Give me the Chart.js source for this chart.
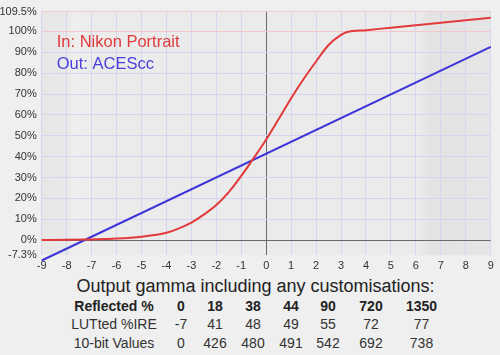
<!DOCTYPE html>
<html>
<head>
<meta charset="utf-8">
<script src="https://cdn.jsdelivr.net/npm/chart.js@4"></script>
<style>
  body { margin: 0; background: #efefef; font-family: Arial, "Liberation Sans", sans-serif; color: #222; }
  #wrap { position: relative; width: 500px; height: 355px; overflow: hidden; }
  #chart { position: absolute; left: 0; top: 0; }
  #title { position: absolute; left: 0; width: 511px; top: 275px; text-align: center; font-size: 18px; line-height: 22px; color: #222; }
  #tbl { position: absolute; left: 62px; top: 297px; border-collapse: collapse; font-size: 14px; color: #333; }
  #tbl td { padding: 0; height: 18.3px; line-height: 18px; text-align: center; white-space: nowrap; }
  #tbl tr.head td { font-weight: bold; color: #222; }
</style>
</head>
<body>
<div id="wrap">
  <canvas id="chart" width="500" height="272"></canvas>
  <div id="title">Output gamma including any customisations:</div>
  <table id="tbl"></table>
</div>
<script>
// stops from 18% grey
let redX = [-9, -8, -7, -6, -5, -4, -3.5, -3, -2.5, -2, -1.5, -1, -0.5, 0, 0.5, 1, 1.5, 2, 2.5, 3, 3.25, 4, 5, 6, 7, 8, 9]
let redY = [0, 0.1, 0.3, 0.7, 1.6, 3.5, 5.6, 8.4, 12.2, 16.8, 23, 30.8, 39.3, 48.2, 58, 68, 77.2, 85.6, 93.5, 98.3, 99.7, 100.6, 101.8, 103, 104.2, 105.4, 106.6]
let blueX = [-9, 9]
let blueY = [-9.8, 92.6]

let xTicks = [-9, -8, -7, -6, -5, -4, -3, -2, -1, 0, 1, 2, 3, 4, 5, 6, 7, 8, 9]
let yTicks = [-7.3, 0, 10, 20, 30, 40, 50, 60, 70, 80, 90, 100, 109.5]

let tableLabels = ['Reflected %', 'LUTted %IRE', '10-bit Values']
let reflected = ['0', '18', '38', '44', '90', '720', '1350']
let lutted = [-7, 41, 48, 49, 55, 72, 77]
let tenBit = [0, 426, 480, 491, 542, 692, 738]

let colWidths = [104, 30, 38, 38, 38, 36, 50, 51]

// table
let tbl = document.getElementById('tbl')
let cg = document.createElement('colgroup')
colWidths.forEach(w => {
  let c = document.createElement('col')
  c.style.width = w + 'px'
  cg.appendChild(c)
})
tbl.appendChild(cg)
;[reflected, lutted, tenBit].forEach((row, i) => {
  let tr = document.createElement('tr')
  if (i === 0) tr.className = 'head'
  let td = document.createElement('td')
  td.textContent = tableLabels[i]
  tr.appendChild(td)
  row.forEach(v => {
    let c = document.createElement('td')
    c.textContent = v
    tr.appendChild(c)
  })
  tbl.appendChild(tr)
})

let toPts = (xs, ys) => xs.map((x, i) => ({ x: x, y: ys[i] }))

let plotBg = {
  id: 'plotBg',
  beforeDraw(chart) {
    let { ctx, chartArea: a } = chart
    ctx.save()
    ctx.fillStyle = '#efefef'
    ctx.fillRect(0, 0, chart.width, chart.height)
    let g = ctx.createLinearGradient(a.left, 0, a.right, 0)
    g.addColorStop(0, '#e7e7e7')
    g.addColorStop(0.055, '#e8e8e8')
    g.addColorStop(0.075, '#efefef')
    g.addColorStop(0.12, '#ebebeb')
    g.addColorStop(0.84, '#ebebeb')
    g.addColorStop(0.865, '#e3e3e3')
    g.addColorStop(1, '#e6e6e6')
    ctx.fillStyle = g
    ctx.fillRect(a.left, a.top, a.right - a.left, a.bottom - a.top)
    ctx.restore()
  },
  afterDraw(chart) {
    let { ctx, chartArea: a } = chart
    ctx.save()
    ctx.font = '16.5px Arial, "Liberation Sans", sans-serif'
    ctx.textBaseline = 'alphabetic'
    ctx.fillStyle = '#e03a3a'
    ctx.fillText('In: Nikon Portrait', a.left + 15, 47)
    ctx.fillStyle = '#4a3fdc'
    ctx.fillText('Out: ACEScc', a.left + 15, 69)
    ctx.restore()
  }
}

let lav = '#d5d5ef'
let pink = '#f3c8cc'
let dark = '#6a6a6a'

let chart = new Chart(document.getElementById('chart').getContext('2d'), {
  type: 'line',
  data: {
    datasets: [{
      label: 'In: Nikon Portrait',
      data: toPts(redX, redY),
      borderColor: '#e23a3a',
      borderWidth: 2,
      pointRadius: 0,
      cubicInterpolationMode: 'monotone',
      clip: false
    }, {
      label: 'Out: ACEScc',
      data: toPts(blueX, blueY),
      borderColor: '#3d35d8',
      borderWidth: 2,
      pointRadius: 0,
      clip: false
    }]
  },
  options: {
    responsive: false,
    devicePixelRatio: 1,
    animation: false,
    layout: { padding: { top: 11, right: 9.3, left: 0, bottom: 0 } },
    plugins: { legend: { display: false }, tooltip: { enabled: false } },
    scales: {
      x: {
        type: 'linear',
        min: -9, max: 9,
        afterBuildTicks: s => { s.ticks = xTicks.map(v => ({ value: v })) },
        afterFit: s => { s.height = 16.7 },
        border: { display: false },
        grid: {
          drawTicks: false,
          color: c => c.tick && c.tick.value === 0 ? dark : lav
        },
        ticks: { padding: 4, color: '#333', font: { size: 11, family: 'Arial, "Liberation Sans", sans-serif' } }
      },
      y: {
        type: 'linear',
        min: -7.3, max: 109.5,
        afterBuildTicks: s => { s.ticks = yTicks.map(v => ({ value: v })) },
        afterFit: s => { s.width = 41.7 },
        border: { display: false },
        grid: {
          drawTicks: false,
          color: c => {
            let v = c.tick ? c.tick.value : null
            if (v === 0) return dark
            if (v >= 100) return pink
            if (v === -7.3) return 'rgba(0,0,0,0)'
            return lav
          }
        },
        ticks: {
          padding: 5,
          color: '#333',
          font: { size: 11, family: 'Arial, "Liberation Sans", sans-serif' },
          callback: v => v + '%'
        }
      }
    }
  },
  plugins: [plotBg]
})
</script>
</body>
</html>
